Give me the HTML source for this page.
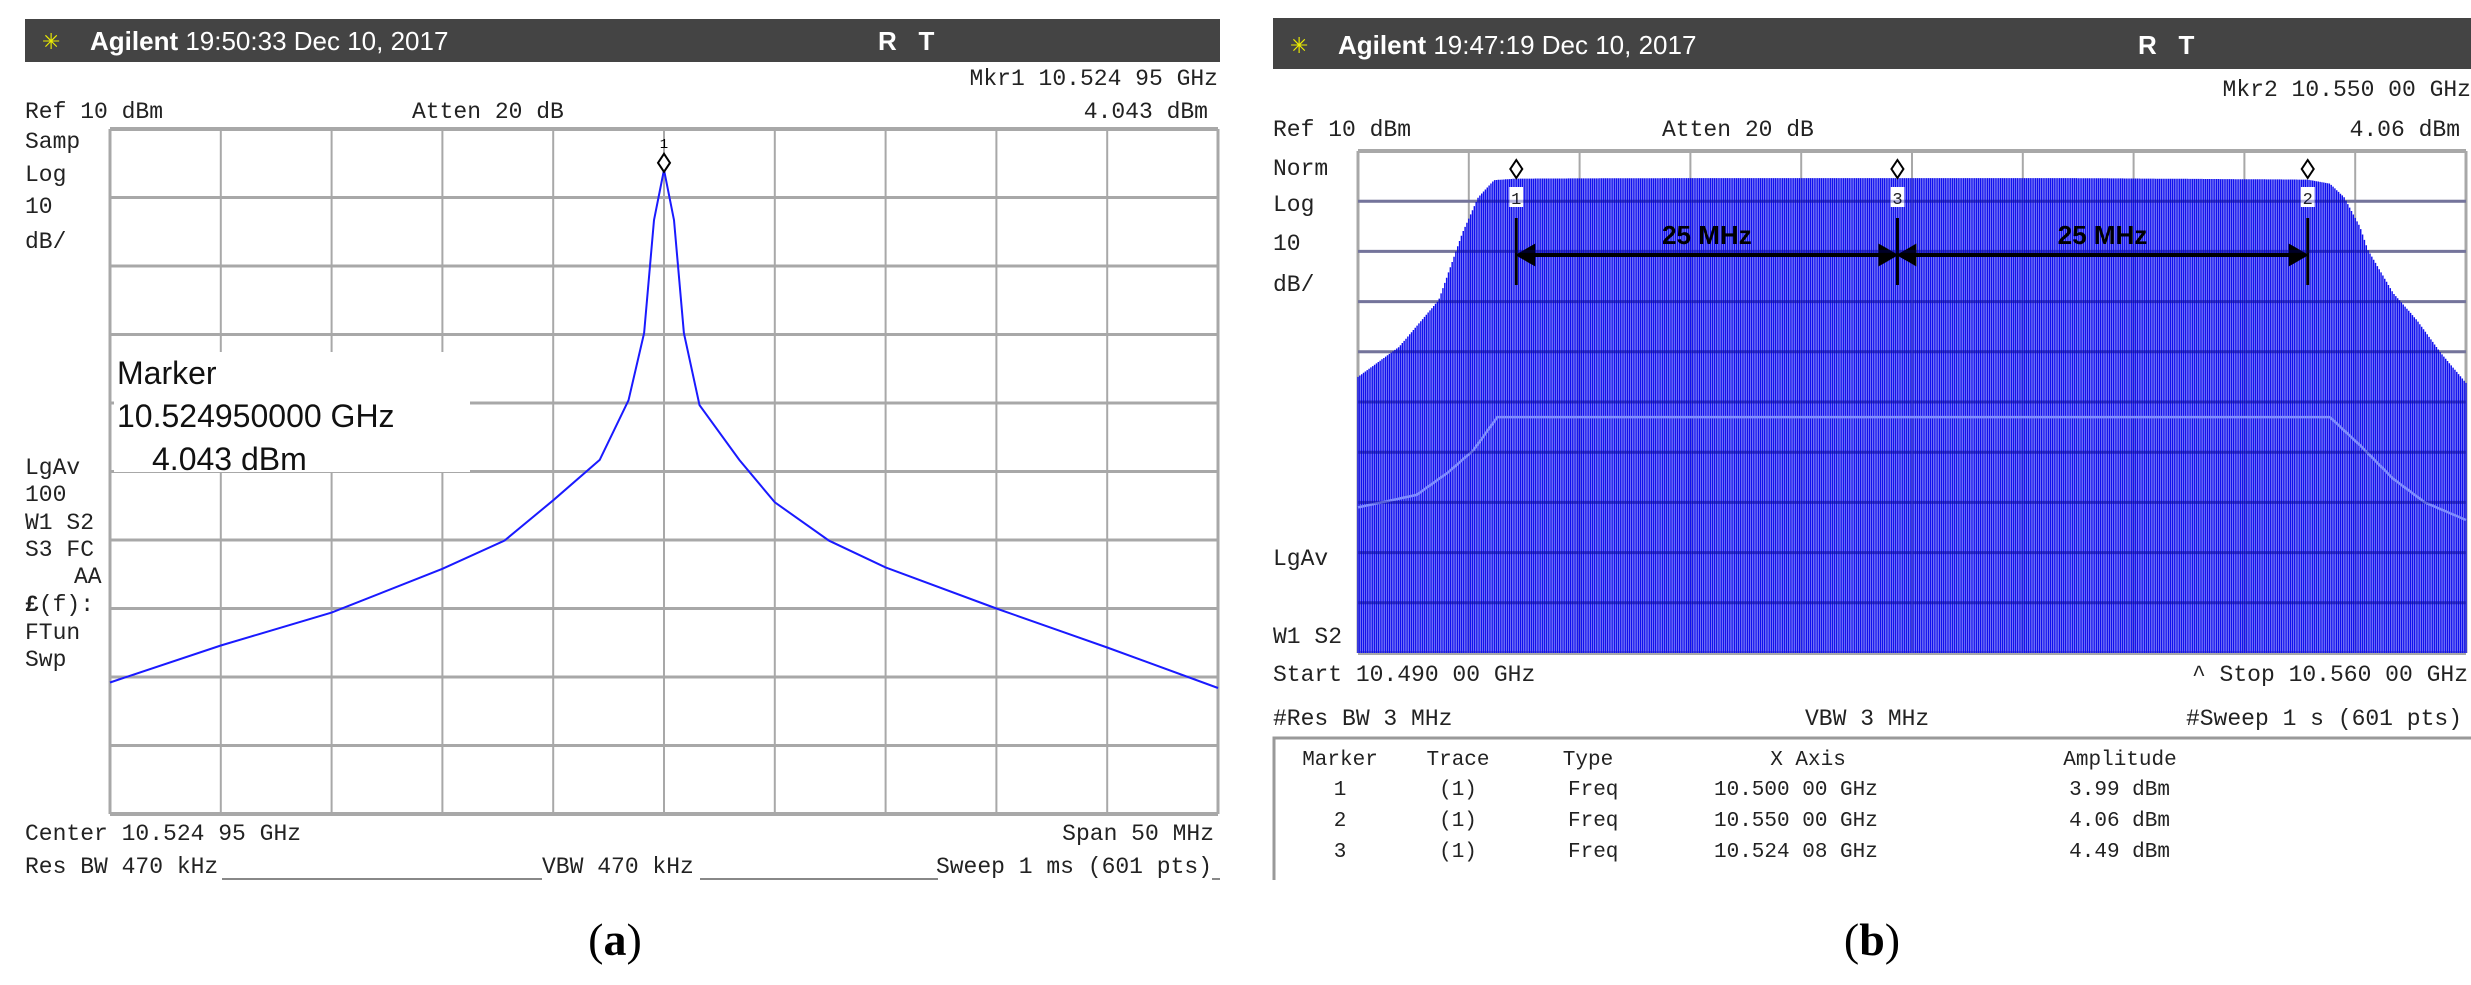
<!DOCTYPE html>
<html><head><meta charset="utf-8"><style>
html,body{margin:0;padding:0;background:#fff;}
svg{display:block;}
.m{font-family:"Liberation Mono",monospace;font-size:23px;fill:#222;}
.h{font-family:"Liberation Sans",sans-serif;font-size:26px;fill:#fff;}
</style></head><body>
<svg id="svg" width="2471" height="985" viewBox="0 0 2471 985" xmlns="http://www.w3.org/2000/svg">
<!-- Panel A -->
<g>
<rect x="25" y="19" width="1195" height="43" fill="#444"/>
<text x="42" y="49" style="font-family:'DejaVu Sans',sans-serif;font-size:22px;fill:#ee0">✳</text>
<text x="90" y="50" class="h"><tspan font-weight="bold">Agilent</tspan> 19:50:33  Dec 10, 2017</text>
<text x="878" y="50" class="h" font-weight="bold">R&#160;&#160;&#160;T</text>
<text x="1218" y="85" class="m" text-anchor="end">Mkr1  10.524 95 GHz</text>
<text x="25" y="118" class="m">Ref 10 dBm</text>
<text x="412" y="118" class="m">Atten 20 dB</text>
<text x="1208" y="118" class="m" text-anchor="end">4.043 dBm</text>
<g class="m">
<text x="25" y="148">Samp</text><text x="25" y="181">Log</text><text x="25" y="213">10</text><text x="25" y="248">dB/</text>
<text x="25" y="474">LgAv</text><text x="25" y="501">100</text><text x="25" y="529">W1 S2</text><text x="25" y="556">S3 FC</text><text x="74" y="583">AA</text><text x="25" y="611"><tspan font-weight="bold">£</tspan>(f):</text><text x="25" y="639">FTun</text><text x="25" y="666">Swp</text>
</g>
<g id="gridA"></g>
<path id="traceA" fill="none" stroke="#1a1aff" stroke-width="2"/>
<g id="mkA"></g>
<rect x="114" y="352" width="356" height="120" fill="#fff"/>
<g style="font-family:'Liberation Sans',sans-serif;font-size:32px;fill:#111">
<text x="117" y="384">Marker</text><text x="117" y="427">10.524950000 GHz</text><text x="152" y="470">4.043 dBm</text>
</g>
<text x="25" y="840" class="m">Center 10.524 95 GHz</text>
<text x="1214" y="840" class="m" text-anchor="end">Span 50 MHz</text>
<text x="25" y="873" class="m">Res BW 470 kHz</text>
<text x="542" y="873" class="m">VBW 470 kHz</text>
<text x="1212" y="873" class="m" text-anchor="end">Sweep 1 ms (601 pts)</text>
<path d="M222 879H542M700 879H938M1212 879H1220" stroke="#888" stroke-width="2"/>
<text x="615" y="955" text-anchor="middle" style="font-family:'Liberation Serif',serif;font-size:46px;fill:#000">(<tspan font-weight="bold">a</tspan>)</text>
</g>
<!-- Panel B -->
<g>
<rect x="1273" y="18" width="1198" height="51" fill="#444"/>
<text x="1290" y="53" style="font-family:'DejaVu Sans',sans-serif;font-size:22px;fill:#ee0">✳</text>
<text x="1338" y="54" class="h"><tspan font-weight="bold">Agilent</tspan> 19:47:19  Dec 10, 2017</text>
<text x="2138" y="54" class="h" font-weight="bold">R&#160;&#160;&#160;T</text>
<text x="2471" y="96" class="m" text-anchor="end">Mkr2  10.550 00 GHz</text>
<text x="1273" y="136" class="m">Ref 10 dBm</text>
<text x="1662" y="136" class="m">Atten 20 dB</text>
<text x="2460" y="136" class="m" text-anchor="end">4.06 dBm</text>
<g class="m">
<text x="1273" y="175">Norm</text><text x="1273" y="211">Log</text><text x="1273" y="250">10</text><text x="1273" y="291">dB/</text>
<text x="1273" y="565">LgAv</text><text x="1273" y="643">W1 S2</text>
</g>
<g id="gridB"></g>
<path id="barsB" fill="none" stroke="#1010ee" stroke-width="1.45"/>
<path id="avgB" fill="none" stroke="#7f8cff" stroke-width="2.5"/>
<g id="mkB"></g>
<g id="arrowsB"></g>
<text x="1273" y="681" class="m">Start 10.490 00 GHz</text>
<text x="2468" y="681" class="m" text-anchor="end">^ Stop 10.560 00 GHz</text>
<text x="1273" y="725" class="m">#Res BW 3 MHz</text>
<text x="1805" y="725" class="m">VBW 3 MHz</text>
<text x="2462" y="725" class="m" text-anchor="end">#Sweep 1 s (601 pts)</text>
<path d="M1274 880V738H2471" fill="none" stroke="#999" stroke-width="3"/>
<g class="m" style="font-size:21px">
<text x="1340" y="765" text-anchor="middle">Marker</text><text x="1458" y="765" text-anchor="middle">Trace</text><text x="1588" y="765" text-anchor="middle">Type</text><text x="1808" y="765" text-anchor="middle">X Axis</text><text x="2120" y="765" text-anchor="middle">Amplitude</text>
<text x="1340" y="795" text-anchor="middle">1</text><text x="1458" y="795" text-anchor="middle">(1)</text><text x="1568" y="795">Freq</text><text x="1714" y="795">10.500 00 GHz</text><text x="2170" y="795" text-anchor="end">3.99 dBm</text>
<text x="1340" y="826" text-anchor="middle">2</text><text x="1458" y="826" text-anchor="middle">(1)</text><text x="1568" y="826">Freq</text><text x="1714" y="826">10.550 00 GHz</text><text x="2170" y="826" text-anchor="end">4.06 dBm</text>
<text x="1340" y="857" text-anchor="middle">3</text><text x="1458" y="857" text-anchor="middle">(1)</text><text x="1568" y="857">Freq</text><text x="1714" y="857">10.524 08 GHz</text><text x="2170" y="857" text-anchor="end">4.49 dBm</text>
</g>
<text x="1872" y="955" text-anchor="middle" style="font-family:'Liberation Serif',serif;font-size:46px;fill:#000">(<tspan font-weight="bold">b</tspan>)</text>
</g>
</svg>
<script>
// Panel A data: offset from center (MHz) and amplitude (dBm)
const offsetsA = [-25,-20,-15,-10,-7.2,-5,-2.9,-1.6,-0.9,-0.45,0,0.45,0.9,1.6,3.4,5,7.45,10,15,20,25];
const ampA = [-70.8,-65.4,-60.6,-54.2,-50.1,-44.2,-38.3,-29.6,-19.8,-3.3,4.04,-3.3,-19.8,-30.3,-38.3,-44.5,-50.1,-54.0,-60.0,-65.7,-71.6];
// Panel B data: frequency offset from start (MHz) and envelope amplitude (dBm)
const freqB = [0,2.6,5.1,6.6,7.6,8.6,10,20,34.08,45,60,61.4,62.3,63.3,63.8,65.4,66.9,68.4,70];
const ampB = [-35,-29,-19.7,-6.3,0.8,4.2,4.5,4.6,4.6,4.6,4.3,3.5,0.8,-5.1,-9.7,-18.3,-23.7,-30.2,-36.2];
const avgFreqB = [0,3.7,5.7,7.3,8.8,20,34,50,61.4,63.3,65.4,67.4,70];
const avgAmpB = [-61,-58.5,-54,-49.6,-43,-43,-43,-43,-43,-48.6,-55.3,-60,-63.5];
const markerFreqB = [10,60,34.08];
const markerLabelsB = ['1','2','3'];
const deltaLabels = ['25 MHz','25 MHz'];

const NS='http://www.w3.org/2000/svg';
function mk(tag,attrs,parent){const e=document.createElementNS(NS,tag);for(const k in attrs)e.setAttribute(k,attrs[k]);parent.appendChild(e);return e;}
const A={x0:110,x1:1218,y0:129,y1:814};
const xA=o=>A.x0+(o+25)/50*(A.x1-A.x0);
const yA=d=>A.y0+(10-d)/100*(A.y1-A.y0);
const B={x0:1358,x1:2466,y0:151,y1:653};
const xB=f=>B.x0+f/70*(B.x1-B.x0);
const yB=d=>B.y0+(10-d)/100*(B.y1-B.y0);

function grid(g,R,hw){
  for(let i=0;i<=10;i++){
    const x=R.x0+i*(R.x1-R.x0)/10, y=R.y0+i*(R.y1-R.y0)/10;
    const l1=mk('line',{x1:x,y1:R.y0,x2:x,y2:R.y1,stroke:'#a8a8a8','stroke-width':(i==0||i==10)?3:2},g);
    
    
    const l2=mk('line',{x1:R.x0,y1:y,x2:R.x1,y2:y,stroke:'#a8a8a8','stroke-width':(i==0||i==10)?4:hw},g);
    
    
  }
}
grid(document.getElementById('gridA'),A,3);
grid(document.getElementById('gridB'),B,3);

document.getElementById('traceA').setAttribute('d',offsetsA.map((o,i)=>(i?'L':'M')+xA(o).toFixed(1)+' '+yA(ampA[i]).toFixed(1)).join(''));
const mkA=document.getElementById('mkA');
const pA=ampA[offsetsA.indexOf(0)];
const dA=mk('path',{d:`M${xA(0)} ${yA(pA)-16}l-6 9l6 9l6-9z`,fill:'#fff',stroke:'#000','stroke-width':2},mkA);


const tA=mk('text',{x:xA(0),y:yA(pA)-22,'text-anchor':'middle','font-family':'Liberation Mono,monospace','font-size':14},mkA);
tA.textContent='1';



function interp(xs,ys,x){for(let i=1;i<xs.length;i++){if(x<=xs[i]){const t=(x-xs[i-1])/(xs[i]-xs[i-1]);return ys[i-1]+t*(ys[i]-ys[i-1]);}}return ys[ys.length-1];}
let d='';
for(let i=0;i<=600;i++){const f=70*i/600;const x=xB(f).toFixed(2);d+=`M${x} ${yB(interp(freqB,ampB,f)).toFixed(1)}V${B.y1}`;}
document.getElementById('barsB').setAttribute('d',d);
document.getElementById('avgB').setAttribute('d',avgFreqB.map((f,i)=>(i?'L':'M')+xB(f).toFixed(1)+' '+yB(avgAmpB[i]).toFixed(1)).join(''));
const gOver=mk('g',{opacity:0.3},document.getElementById('svg'));


for(let i=1;i<10;i++){const y=B.y0+i*(B.y1-B.y0)/10;const l=mk('line',{x1:B.x0,y1:y,x2:B.x1,y2:y,stroke:'#000080','stroke-width':3},gOver);

}

const mkB=document.getElementById('mkB');
markerFreqB.forEach((f,i)=>{
  const x=xB(f);
  const dd=mk('path',{d:`M${x} 160l-6 9l6 9l6-9z`,fill:'#fff',stroke:'#000','stroke-width':2},mkB);
  
  
  const r=mk('rect',{x:x-7,y:187,width:14,height:20,fill:'#fff'},mkB);
  
  
  const t=mk('text',{x:x,y:204,'text-anchor':'middle','font-family':'Liberation Mono,monospace','font-size':17,fill:'#222'},mkB);
  t.textContent=markerLabelsB[i];
  
  
});
const ar=document.getElementById('arrowsB');
const xs=[xB(markerFreqB[0]),xB(markerFreqB[2]),xB(markerFreqB[1])];
xs.forEach(x=>{const l=mk('line',{x1:x,y1:218,x2:x,y2:285,stroke:'#000','stroke-width':3},ar);

});
for(let k=0;k<2;k++){
  const a=xs[k]+3,b=xs[k+1]-3,y=255;
  const p=mk('path',{d:`M${a} ${y}H${b}M${a} ${y}l14-8v16zM${b} ${y}l-14-8v16z`,stroke:'#000','stroke-width':4,fill:'#000'},ar);
  
  
  const t=mk('text',{x:(a+b)/2,y:244,'text-anchor':'middle','font-family':'Liberation Sans,sans-serif','font-size':26,'font-weight':'bold',fill:'#000'},ar);
  t.textContent=deltaLabels[k];
  
  
}
</script>
</body></html>
